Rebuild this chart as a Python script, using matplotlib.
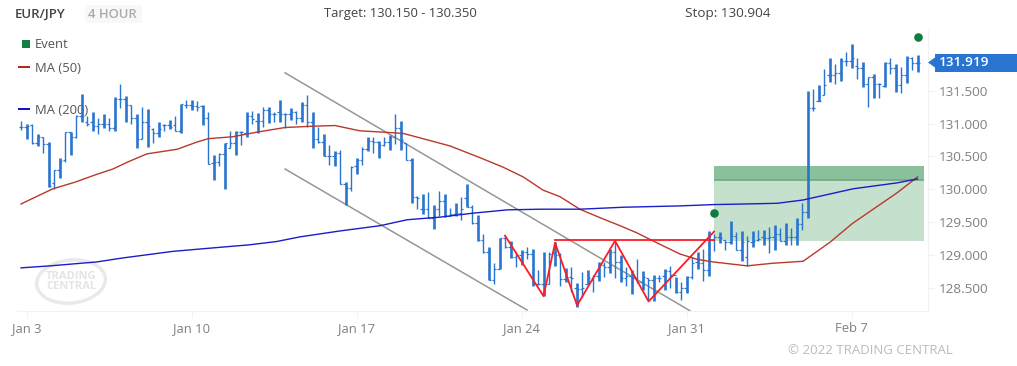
import matplotlib
matplotlib.use('Agg')
import matplotlib.pyplot as plt
from matplotlib.patches import Rectangle, Polygon, Ellipse, FancyBboxPatch
from matplotlib.transforms import IdentityTransform

plt.rcParams['font.family'] = ['Open Sans', 'DejaVu Sans']

W, H = 1017, 366

highs = [131.04,131.00,130.99,130.84,130.79,130.72,130.29,130.47,130.87,130.87,
         131.13,131.45,131.12,131.18,131.08,131.15,131.08,131.40,131.60,131.42,
         131.28,131.15,131.25,131.22,130.93,131.02,131.00,131.05,131.12,131.29,
         131.35,131.36,131.34,131.28,131.17,130.53,130.55,130.70,130.88,130.89,
         130.88,131.17,131.19,131.16,131.25,131.25,131.17,131.35,131.16,131.23,
         131.19,131.32,131.43,131.17,130.95,130.84,130.68,130.58,130.60,130.12,
         130.35,130.48,130.65,130.79,130.80,130.73,130.80,130.83,131.15,131.04,
         130.70,130.47,129.90,129.93,129.96,129.76,129.98,129.93,129.72,129.80,
         129.89,130.08,129.77,129.61,129.32,129.12,128.88,129.26,129.30,129.21,
         129.04,129.08,129.13,129.10,128.78,129.05,129.05,129.20,129.03,128.81,
         128.83,128.58,128.75,128.78,128.70,128.90,128.90,129.10,129.20,129.00,
         128.82,128.78,128.94,128.76,128.65,128.70,128.70,128.80,128.84,128.67,
         128.60,128.69,128.98,129.05,129.10,129.37,129.33,129.35,129.24,129.52,
         129.35,129.37,129.29,129.37,129.39,129.38,129.43,129.46,129.42,129.49,
         129.41,129.56,129.79,131.49,131.53,131.58,131.83,132.00,131.90,131.99,
         132.08,132.20,131.99,131.93,131.70,131.75,131.61,131.93,131.99,131.91,
         131.86,132.02,132.01,132.04]
lows = [130.90,130.77,130.69,130.66,130.56,130.04,130.00,130.17,130.41,130.52,
        130.78,131.03,130.97,130.89,130.84,130.94,130.88,130.89,131.24,131.03,
        130.99,130.63,130.77,130.65,130.71,130.79,130.88,130.92,130.88,130.86,
        131.23,131.21,131.19,130.98,130.39,130.14,130.35,130.00,130.63,130.52,
        130.68,130.79,130.99,130.85,130.95,131.01,131.03,131.03,130.93,131.06,
        131.00,131.03,130.95,130.63,130.70,130.50,130.37,130.36,130.08,129.76,
        129.97,130.23,130.37,130.58,130.56,130.48,130.66,130.60,130.69,130.60,
        130.45,129.80,129.70,129.63,129.57,129.40,129.59,129.58,129.59,129.60,
        129.53,129.74,129.48,129.22,129.04,128.62,128.56,128.80,129.11,128.96,
        128.83,128.85,128.94,128.54,128.55,128.39,128.56,128.84,128.54,128.59,
        128.45,128.22,128.37,128.57,128.45,128.61,128.67,128.73,128.65,128.60,
        128.53,128.42,128.58,128.48,128.30,128.31,128.60,128.47,128.51,128.43,
        128.32,128.43,128.64,128.79,128.61,128.68,129.07,129.19,129.08,129.17,
        129.08,128.92,128.84,129.13,129.21,129.16,129.04,129.08,129.21,129.16,
        129.16,129.16,129.38,129.57,131.19,131.34,131.44,131.63,131.60,131.65,
        131.87,131.85,131.67,131.56,131.25,131.39,131.39,131.56,131.75,131.48,
        131.47,131.62,131.82,131.79]
opens = [130.95,130.95,130.98,130.71,130.79,130.69,130.10,130.29,130.45,130.87,
         130.79,131.12,131.03,131.02,130.97,131.00,131.00,130.94,131.37,131.37,
         131.28,131.08,130.76,131.03,130.92,130.86,130.98,130.98,130.98,130.88,
         131.28,131.28,131.27,131.27,131.09,130.40,130.41,130.54,130.63,130.70,
         130.87,130.86,131.11,131.04,131.04,131.20,131.14,131.17,131.15,131.14,
         131.18,131.09,131.28,131.03,130.77,130.72,130.50,130.50,130.55,130.08,
         130.02,130.35,130.45,130.62,130.74,130.72,130.68,130.72,130.79,130.94,
         130.70,130.45,129.88,129.71,129.71,129.57,129.70,129.82,129.60,129.62,
         129.64,129.87,129.74,129.49,129.23,129.05,128.63,128.80,129.27,129.12,
         128.98,129.00,129.05,129.02,128.57,128.57,128.56,129.03,129.00,128.64,
         128.67,128.50,128.49,128.57,128.62,128.68,128.85,128.83,129.05,128.90,
         128.66,128.68,128.66,128.60,128.66,128.63,128.66,128.68,128.76,128.70,
         128.45,128.50,128.67,128.90,128.88,128.78,129.23,129.28,129.24,129.20,
         129.30,129.08,128.97,129.20,129.23,129.28,129.27,129.28,129.33,129.22,
         129.28,129.28,129.48,129.66,131.24,131.34,131.44,131.74,131.74,131.77,
         131.95,131.95,131.87,131.85,131.60,131.70,131.60,131.57,131.92,131.85,
         131.58,131.73,132.00,131.92]
closes = [130.95,130.97,130.71,130.80,130.69,130.05,130.29,130.43,130.87,130.79,
          131.12,131.12,131.00,130.97,131.00,131.00,130.94,131.38,131.37,131.28,
          131.08,130.76,131.03,130.97,130.86,130.92,130.98,130.95,130.88,131.29,
          131.28,131.27,131.25,131.09,130.39,130.41,130.54,130.70,130.70,130.87,
          130.87,131.11,131.07,131.04,131.20,131.14,131.15,131.15,131.14,131.18,
          131.09,131.28,131.03,130.77,130.72,130.50,130.50,130.55,130.08,130.02,
          130.34,130.45,130.62,130.74,130.72,130.68,130.72,130.79,130.94,130.75,
          130.45,129.88,129.87,129.70,129.57,129.70,129.82,129.60,129.62,129.64,
          129.70,129.74,129.49,129.23,129.05,128.63,128.80,129.26,129.12,128.98,
          129.00,129.05,129.02,128.57,128.57,128.56,129.02,129.00,128.64,128.67,
          128.66,128.49,128.50,128.65,128.68,128.85,128.83,129.05,128.90,128.66,
          128.68,128.66,128.60,128.67,128.63,128.66,128.66,128.76,128.70,128.45,
          128.50,128.67,128.88,128.88,128.78,129.23,129.28,129.27,129.20,129.30,
          129.08,129.20,129.22,129.22,129.25,129.27,129.28,129.33,129.22,129.28,
          129.28,129.48,129.66,131.24,131.23,131.34,131.58,131.74,131.77,131.95,
          131.95,132.00,131.85,131.60,131.70,131.60,131.60,131.92,131.85,131.58,
          131.73,132.00,131.92,131.92]

ma50_x = [0,5.8,9.8,13.8,16.7,19.5,22.9,28.4,32,34,38.5,42.9,48,53.1,57.1,61.6,65.8,69.5,73.1,78,
          83.5,87.6,91.3,94.9,98,101.6,105.3,108.9,112,115.6,119.8,122.9,125.8,132,136.7,142.2,
          147.1,151.1,159.3,163]
ma50_y = [129.78,130.01,130.11,130.23,130.31,130.42,130.54,130.61,130.72,130.77,130.80,130.87,
          130.94,130.96,130.97,130.89,130.87,130.85,130.77,130.66,130.48,130.34,130.19,129.99,
          129.89,129.70,129.57,129.45,129.34,129.19,129.02,128.94,128.90,128.84,128.88,128.91,
          129.20,129.48,129.95,130.19]
ma200_x = [0,5.3,13.8,18.5,27.6,33.1,41.6,46.5,50.7,58,65.3,70.2,76.2,82.2,88.4,94.4,101.6,109.5,
           119.8,125.8,132,137.5,142.2,151.3,159.3,163]
ma200_y = [128.81,128.84,128.90,128.96,129.06,129.10,129.16,129.21,129.28,129.37,129.45,129.54,
           129.58,129.64,129.69,129.70,129.70,129.73,129.75,129.77,129.78,129.79,129.84,130.01,
           130.10,130.16]

channel_upper_x = [48, 121.6]
channel_upper_y = [131.77, 128.16]
channel_lower_x = [48, 92]
channel_lower_y = [130.31, 128.17]

pattern_x = [88, 95, 97.1, 101.1, 108, 114.1, 126]
pattern_y = [129.30, 128.38, 129.19, 128.24, 129.22, 128.30, 129.36]
neckline_x = [97.1, 126]
neckline_y = [129.23, 129.23]

event_x = [126, 163]
event_y = [129.64, 132.32]

target_low, target_high = 130.15, 130.35
zone_low = 129.22
zone_start, zone_end = 126, 164.2
last_price = 131.919

yticks = [128.5, 129, 129.5, 130, 130.5, 131, 131.5, 132]
xticks = [1, 31, 61, 91, 121, 151]
xlabels = ['Jan 3', 'Jan 10', 'Jan 17', 'Jan 24', 'Jan 31', 'Feb 7']

BLUE = '#2874d0'
GREEN = '#0f7d3e'
PALE = '#f2f2f2'
GREY = '#808080'


def fx(x):
    return x / W


def fy(y):
    return 1 - y / H


fig = plt.figure(figsize=(W / 100, H / 100), dpi=100, facecolor='white')
ax = fig.add_axes([fx(17), fy(311), (928 - 17) / W, (311 - 30) / H])
ax.patch.set_visible(False)
ax.set_xlim(-0.73, 164.9)
ax.set_ylim(128.155, 132.42)

# target zone
ax.add_patch(Rectangle((zone_start, zone_low), zone_end - zone_start, target_low - zone_low,
                       facecolor='#c5e1ce', edgecolor='none', zorder=1))
ax.add_patch(Rectangle((zone_start, target_low), zone_end - zone_start, target_high - target_low,
                       facecolor='#8ac09c', edgecolor='none', zorder=1))
ax.plot([zone_start, zone_end], [target_low, target_low], color='#6fae87', lw=1.3, zorder=1.5,
        solid_capstyle='butt')

ax.plot(channel_upper_x, channel_upper_y, color='#969696', lw=1.1, zorder=2)
ax.plot(channel_lower_x, channel_lower_y, color='#969696', lw=1.1, zorder=2)

# ohlc bars, every other one lands on two pixels in the original
idx = list(range(len(highs)))
widths = [1.9 if i % 2 else 1.0 for i in idx]
ax.vlines(idx, lows, highs, colors=BLUE, linewidths=widths, zorder=3)
ax.hlines(opens, [i - 0.4 for i in idx], idx, colors=BLUE, linewidths=0.9, zorder=3)
ax.hlines(closes, idx, [i + 0.4 for i in idx], colors=BLUE, linewidths=0.9, zorder=3)

ax.plot(ma50_x, ma50_y, color='#b8392c', lw=1.0, zorder=4)
ax.plot(ma200_x, ma200_y, color='#1c1cc8', lw=1.0, zorder=4)

ax.plot(pattern_x, pattern_y, color='#fb1c24', lw=1.3, zorder=5)
ax.plot(neckline_x, neckline_y, color='#fb1c24', lw=1.3, zorder=5)

ax.plot(event_x, event_y, 'o', color=GREEN, ms=6.2, mew=0, zorder=6, clip_on=False)

for s in ['top', 'left']:
    ax.spines[s].set_visible(False)
for s in ['right', 'bottom']:
    ax.spines[s].set_color(PALE)
    ax.spines[s].set_linewidth(0.8)

ax.yaxis.tick_right()
ax.set_yticks(yticks)
ax.set_yticklabels(['%.3f' % v for v in yticks])
ax.set_xticks(xticks)
ax.set_xticklabels(xlabels)
ax.tick_params(axis='y', length=5, width=0.8, color=PALE, labelcolor=GREY, labelsize=9.7, pad=3)
ax.tick_params(axis='x', length=5, width=0.8, color=PALE, labelcolor=GREY, labelsize=9.4, pad=3)

# header
fig.text(fx(15), fy(14), 'EUR/JPY', fontsize=9.5, color='#444444', fontweight='semibold', va='center')
fig.add_artist(FancyBboxPatch((fx(85), fy(23)), 57 / W, 18 / H, boxstyle='round,pad=0,rounding_size=0.003',
                              facecolor='#f8f8f8', edgecolor='none', zorder=-2))
fig.text(fx(88), fy(14), '4 HOUR', fontsize=9.4, color='#aaaaaa', va='center', fontweight='semibold')
fig.text(fx(324), fy(14), 'Target: 130.150 - 130.350', fontsize=9.4, color='#444444', va='center')
fig.text(fx(685), fy(14), 'Stop: 130.904', fontsize=9.7, color='#444444', va='center')

# legend
fig.add_artist(Rectangle((fx(22), fy(48)), 8 / W, 8 / H, facecolor='#118040', edgecolor='none'))
fig.text(fx(35), fy(45), 'Event', fontsize=9.4, color='#555555', va='center')
fig.add_artist(Rectangle((fx(18), fy(68)), 12 / W, 2 / H, facecolor='#b8291c', edgecolor='none'))
fig.text(fx(35), fy(68), 'MA (50)', fontsize=9.4, color='#555555', va='center')
fig.add_artist(Rectangle((fx(18), fy(110)), 12 / W, 2 / H, facecolor='#1414c8', edgecolor='none'))
fig.text(fx(35), fy(110), 'MA (200)', fontsize=9.4, color='#555555', va='center', zorder=-1)

# last price flag
fig.add_artist(Rectangle((fx(935), fy(71.5)), 82 / W, 17.5 / H, facecolor=BLUE, edgecolor='none', zorder=5))
fig.add_artist(Polygon([(fx(928), fy(62.5)), (fx(935), fy(57.5)), (fx(935), fy(67.5))], closed=True,
                       facecolor=BLUE, edgecolor='none', zorder=5))
fig.text(fx(939), fy(62.5), '%.3f' % last_price, fontsize=9.7, color='white', va='center',
         fontweight='semibold', zorder=6)

# watermark, placed in pixels because it is tilted
fig.add_artist(Ellipse((71, H - 281.5), 69, 43, angle=6, facecolor='none', edgecolor='#e9e9e9',
                       linewidth=2.4, zorder=-1, transform=IdentityTransform()))
fig.text(fx(46), fy(281.5), 'TRADING\nCENTRAL', fontsize=8, color='#e4e4e4', fontweight='bold',
         va='center', linespacing=0.85, zorder=-1)

fig.text(fx(788), fy(350), '\u00a9 2022 TRADING CENTRAL', fontsize=9.5, color='#bbbbbb', va='center')

fig.savefig('out.png', dpi=100)
